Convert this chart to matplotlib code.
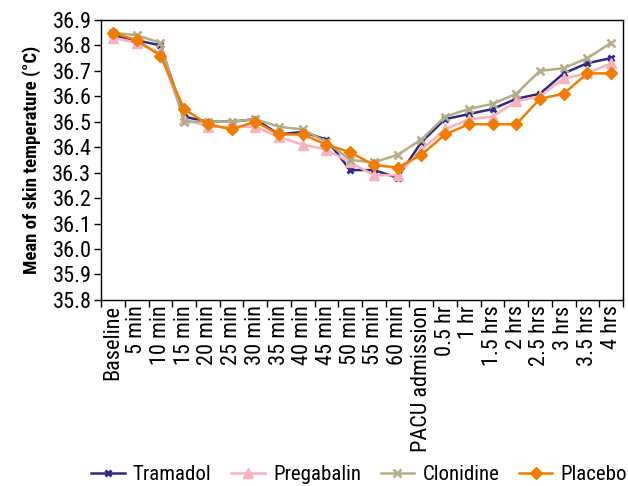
import matplotlib.pyplot as plt
from matplotlib import font_manager
import numpy as np

times = ['Baseline', '5 min', '10 min', '15 min', '20 min', '25 min', '30 min',
         '35 min', '40 min', '45 min', '50 min', '55 min', '60 min',
         'PACU admission', '0.5 hr', '1 hr', '1.5 hrs', '2 hrs', '2.5 hrs',
         '3 hrs', '3.5 hrs', '4 hrs']

tramadol = [36.84, 36.82, 36.80, 36.52, 36.50, 36.50, 36.51, 36.45, 36.46, 36.43, 36.31,
            36.31, 36.28, 36.42, 36.51, 36.53, 36.55, 36.59, 36.61, 36.69, 36.73, 36.75]
pregabalin = [36.83, 36.81, 36.77, 36.51, 36.48, 36.48, 36.48, 36.44, 36.41, 36.39, 36.34,
              36.29, 36.29, 36.39, 36.47, 36.51, 36.52, 36.58, 36.60, 36.67, 36.69, 36.73]
clonidine = [36.85, 36.84, 36.81, 36.50, 36.50, 36.50, 36.51, 36.48, 36.47, 36.42, 36.35,
             36.34, 36.37, 36.43, 36.52, 36.55, 36.57, 36.61, 36.70, 36.71, 36.75, 36.81]
placebo = [36.85, 36.82, 36.76, 36.55, 36.49, 36.47, 36.50, 36.45, 36.45, 36.41, 36.38,
           36.33, 36.32, 36.37, 36.45, 36.49, 36.49, 36.49, 36.59, 36.61, 36.69, 36.69]

# pick a narrow font if one is there, the original uses a condensed face
installed = {f.name for f in font_manager.fontManager.ttflist}
fam = 'DejaVu Sans'
for cand in ['Liberation Sans Narrow', 'Roboto Condensed', 'Open Sans Condensed', 'DejaVu Sans Condensed']:
    if cand in installed:
        fam = cand
        break
plt.rcParams['font.family'] = [fam, 'DejaVu Sans']
plt.rcParams['font.stretch'] = 'condensed'
k = 1.0 if fam != 'DejaVu Sans' else 0.85

fig = plt.figure(figsize=(6.28, 4.86), dpi=100)
ax = fig.add_axes([0.161, 0.383, 0.831, 0.576])

x = np.arange(len(times))
ax.plot(x, tramadol, color='#2e2a80', marker='x', ms=5, mew=2, lw=1.8, label='Tramadol')
ax.plot(x, pregabalin, color='#f7b3bf', marker='^', ms=7, lw=1.8, label='Pregabalin')
ax.plot(x, clonidine, color='#b3ad89', marker='x', ms=6, mew=1.8, lw=1.8, label='Clonidine')
ax.plot(x, placebo, color='#f07d00', marker='D', ms=6, lw=1.8, label='Placebo')

ax.set_xlim(-0.5, len(times) - 0.5)
ax.set_ylim(35.8, 36.9)
ax.set_yticks(np.arange(35.8, 36.91, 0.1))
ax.set_yticklabels([f'{v:.1f}' for v in np.arange(35.8, 36.91, 0.1)], fontsize=16 * k)
ax.set_xticks(x)
ax.set_xticklabels(times, rotation=90, fontsize=16 * k)
ax.tick_params(axis='x', length=0, pad=4)
ax.set_xticks(np.arange(-0.5, len(times), 1), minor=True)
ax.tick_params(axis='x', which='minor', length=5, width=1, direction='out')
ax.tick_params(axis='y', length=5, width=1, direction='out', pad=2)
for s in ax.spines.values():
    s.set_linewidth(1)

ax.set_ylabel('Mean of skin temperature (°C)', fontsize=13.5 * k, fontweight='bold', labelpad=8)

fig.legend(loc='lower center', ncol=4, frameon=False, fontsize=15 * k,
           bbox_to_anchor=(0.572, -0.022), columnspacing=0.95, handlelength=1.6,
           handletextpad=0.4, borderaxespad=0.2)

plt.savefig('out.png', dpi=100)
